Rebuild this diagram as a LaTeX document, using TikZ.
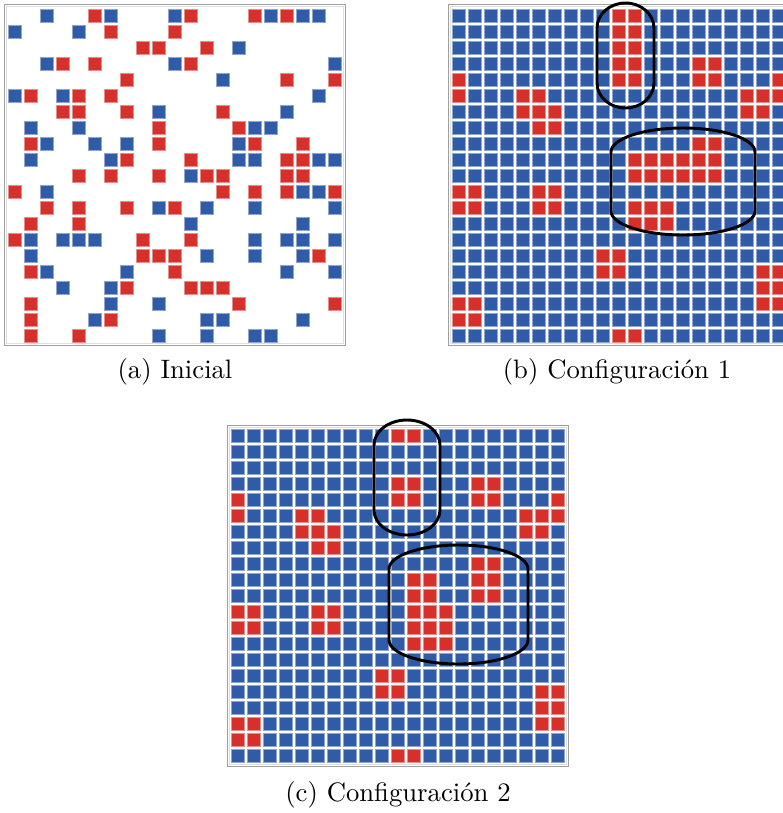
\documentclass[tikz,border=0pt]{standalone}
\usepackage{fontspec}
\usepackage{xcolor}
\usepackage{tikz}
\definecolor{cellblue}{RGB}{47,91,168}
\definecolor{cellred}{RGB}{215,48,42}
\definecolor{framegray}{RGB}{160,160,160}

\begin{document}
\begin{tikzpicture}[
    x=0.375pt, y=-0.375pt,
    bcell/.style={fill=cellblue, draw=cellblue!55!white, line width=0.3pt},
    rcell/.style={fill=cellred, draw=cellred!55!white, line width=0.3pt},
    panelframe/.style={draw=framegray, line width=0.6pt},
    innerframe/.style={draw=gray!25, line width=0.4pt},
    loopline/.style={draw=black, line width=1.1pt},
    subcap/.style={font=\normalsize, inner sep=0pt},
]
    \clip (0,0) rectangle (783,813);

    % (a) initial grid, sparse
    \draw[panelframe] (4.5,4.5) rectangle (345.5,345.5);
    \draw[innerframe] (6.5,6.5) rectangle (343.5,343.5);
    \foreach \r/\cs in {0/{2,6,10,16,18,19}, 1/{0,4}, 2/{14}, 3/{2,10,20}, 4/{13},
        5/{0,3,19}, 6/{9,17}, 7/{1,4,15,16}, 8/{2,5,7,14}, 9/{1,6,14,15,19,20},
        10/{11}, 11/{2,18,19}, 12/{9,12,15,20}, 13/{11,18}, 14/{1,3,4,5,15,17,18,20},
        15/{1,12,15,18}, 16/{2,7,17,20}, 17/{3,6}, 18/{6,9}, 19/{5,12,13,18},
        20/{9,12,15,16}}
        \foreach \c in \cs
            \draw[bcell] ({8.5+16*\c},{9.5+16*\r}) rectangle +(13,13);
    \foreach \r/\cs in {0/{5,11,15,17}, 1/{6,10}, 2/{8,9,12}, 3/{3,5,11}, 4/{7,17,20},
        5/{1,4,6}, 6/{3,4,7,13}, 7/{9,14}, 8/{1,9,15,18}, 9/{7,11,17,18},
        10/{4,6,9,12,13,17,18}, 11/{0,13,15,17,20}, 12/{2,4,7,10}, 13/{1,4},
        14/{0,8,11}, 15/{8,9,10,19}, 16/{1,10}, 17/{7,11,12,13}, 18/{1,14,20},
        19/{1,6}, 20/{1,4}}
        \foreach \c in \cs
            \draw[rcell] ({8.5+16*\c},{9.5+16*\r}) rectangle +(13,13);
    \node[subcap] (capa) at (175,372) {(a) Inicial};

    % (b) configuration 1
    \draw[panelframe] (448.5,4.5) rectangle (789.5,345.5);
    \draw[innerframe] (450.5,6.5) rectangle (787.5,343.5);
    \foreach \r in {0,...,20}
        \foreach \c in {0,...,20}
            \draw[bcell] ({452.2+16*\c},{9.5+16*\r}) rectangle +(13,13);
    \foreach \r/\cs in {0/{10,11}, 1/{10,11}, 2/{10,11}, 3/{10,11,15,16},
        4/{0,10,11,15,16,20}, 5/{0,4,5,18,19,20}, 6/{4,5,6,18,19}, 7/{5,6},
        8/{15,16}, 9/{11,12,13,14,15,16}, 10/{11,12,13,14,15,16}, 11/{0,1,5,6},
        12/{0,1,5,6,11,12,13}, 13/{11,12,13}, 15/{9,10}, 16/{9,10,19,20},
        17/{19,20}, 18/{0,1,19,20}, 19/{0,1}, 20/{10,11}}
        \foreach \c in \cs
            \draw[rcell] ({452.2+16*\c},{9.5+16*\r}) rectangle +(13,13);
    \draw[loopline] (597,28) arc[start angle=180, end angle=360, x radius=28.5, y radius=25]
        -- (654,83) arc[start angle=0, end angle=180, x radius=28.5, y radius=25] -- cycle;
    \draw[loopline] (611,152) arc[start angle=180, end angle=360, x radius=72, y radius=24]
        -- (755,211) arc[start angle=0, end angle=180, x radius=72, y radius=24] -- cycle;
    \node[subcap] (capb) at (617,372) {(b) Configuración 1};

    % (c) configuration 2
    \draw[panelframe] (227.5,425.5) rectangle (568.5,766.5);
    \draw[innerframe] (229.5,427.5) rectangle (566.5,764.5);
    \foreach \r in {0,...,20}
        \foreach \c in {0,...,20}
            \draw[bcell] ({231.5+16*\c},{429.5+16*\r}) rectangle +(13,13);
    \foreach \r/\cs in {0/{10,11}, 3/{10,11,15,16}, 4/{0,10,11,15,16,20},
        5/{0,4,5,18,19,20}, 6/{4,5,6,18,19}, 7/{5,6}, 8/{15,16}, 9/{11,12,15,16},
        10/{11,12,15,16}, 11/{0,1,5,6,11,12,13}, 12/{0,1,5,6,11,12,13},
        13/{11,12,13}, 15/{9,10}, 16/{9,10,19,20}, 17/{19,20}, 18/{0,1,19,20},
        19/{0,1}, 20/{10,11}}
        \foreach \c in \cs
            \draw[rcell] ({231.5+16*\c},{429.5+16*\r}) rectangle +(13,13);
    \draw[loopline] (374,445) arc[start angle=180, end angle=360, x radius=33, y radius=25]
        -- (440,510) arc[start angle=0, end angle=180, x radius=33, y radius=25] -- cycle;
    \draw[loopline] (389,569) arc[start angle=180, end angle=360, x radius=69.5, y radius=24]
        -- (528,640) arc[start angle=0, end angle=180, x radius=69.5, y radius=24] -- cycle;
    \node[subcap] (capc) at (398,795) {(c) Configuración 2};
\end{tikzpicture}
\end{document}
